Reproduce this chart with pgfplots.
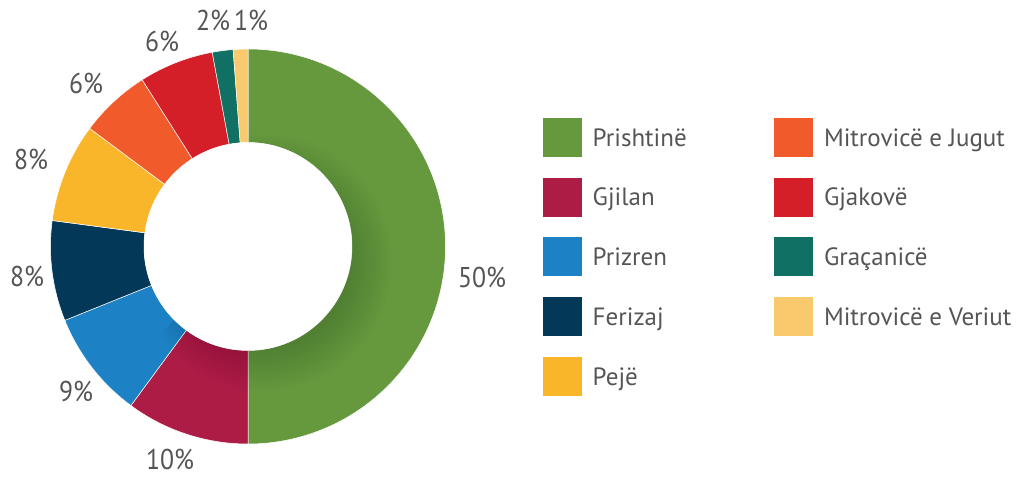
\documentclass[border=0pt]{standalone}
\usepackage{fontspec}
\setmainfont{PT Sans}
\newfontfamily\pctfam{PT Sans}[FakeStretch=0.9]
\usepackage{pgfplots}
\usepackage{pgfplotstable}
\pgfplotsset{compat=1.18}

\definecolor{cPri}{HTML}{66983E}
\definecolor{cGji}{HTML}{AC1C45}
\definecolor{cPrz}{HTML}{1D82C5}
\definecolor{cFer}{HTML}{043858}
\definecolor{cPej}{HTML}{FAB62B}
\definecolor{cMJ}{HTML}{F15A2B}
\definecolor{cGja}{HTML}{D41F28}
\definecolor{cGra}{HTML}{107064}
\definecolor{cMV}{HTML}{F8C96D}
\definecolor{txt}{HTML}{555555}

\newcommand\pctfont{\pctfam\fontsize{14.3pt}{16pt}\selectfont}
\newcommand\legfont{\fontsize{12.5pt}{15pt}\selectfont}

% share in percent, printed label, colour, label position (px, from top-left)
\pgfplotstableread[col sep=comma]{
name,value,pct,color,lx,ly
Prishtinë,50.0,50,cPri,482,277
Gjilan,10.1,10,cGji,170,459
Prizren,8.8,9,cPrz,76,391
Ferizaj,8.2,8,cFer,27,276
Pejë,8.1,8,cPej,31,159
Mitrovicë e Jugut,5.8,6,cMJ,86,83
Gjakovë,6.1,6,cGja,162,41
Graçanicë,1.7,2,cGra,213,20
Mitrovicë e Veriut,1.2,1,cMV,251,20
}\piedata

\begin{document}
\begin{tikzpicture}
% slice angles, colours and positions
\pgfplotstablegetrowsof{\piedata}
\pgfmathtruncatemacro\nlast{\pgfplotsretval-1}
\xdef\cum{90}
\foreach \i in {0,...,\nlast}{%
  \pgfplotstablegetelem{\i}{value}\of\piedata
  \pgfmathsetmacro\b{\cum-3.6*\pgfplotsretval}%
  \expandafter\xdef\csname sa\i\endcsname{\cum}%
  \expandafter\xdef\csname sb\i\endcsname{\b}%
  \xdef\cum{\b}%
  \pgfplotstablegetelem{\i}{color}\of\piedata
  \expandafter\xdef\csname col\i\endcsname{\pgfplotsretval}%
  \pgfplotstablegetelem{\i}{pct}\of\piedata
  \expandafter\xdef\csname pc\i\endcsname{\pgfplotsretval}%
  \pgfplotstablegetelem{\i}{lx}\of\piedata
  \expandafter\xdef\csname lx\i\endcsname{\pgfplotsretval}%
  \pgfplotstablegetelem{\i}{ly}\of\piedata
  \pgfmathsetmacro\t{477-\pgfplotsretval}%
  \expandafter\xdef\csname ly\i\endcsname{\t}%
  \pgfplotstablegetelem{\i}{name}\of\piedata
  \global\expandafter\let\csname nm\i\endcsname\pgfplotsretval
  \ifnum\i<5
    \pgfmathsetmacro\gx{543}\pgfmathsetmacro\gy{477-(137.3+59.75*\i)}%
  \else
    \pgfmathsetmacro\gx{774.3}\pgfmathsetmacro\gy{477-(137.3+59.75*(\i-5))}%
  \fi
  \expandafter\xdef\csname gx\i\endcsname{\gx}%
  \expandafter\xdef\csname gy\i\endcsname{\gy}%
}
\begin{axis}[
  width=509pt, height=238.5pt, scale only axis,
  xmin=0, xmax=1018, ymin=0, ymax=477,
  hide axis, clip=false,
]
% keep the whole frame as the page
\path (axis cs:0,0) rectangle (axis cs:1018,477);
% donut slices
\pgfplotsinvokeforeach{0,...,8}{
  \edef\tmp{\noexpand\fill[fill=\csname col#1\endcsname, draw=white, line width=0.25pt]
    (axis cs:248,230.5) ++(\csname sa#1\endcsname:98.75pt)
    arc[start angle=\csname sa#1\endcsname, end angle=\csname sb#1\endcsname, radius=98.75pt]
    -- ++(\csname sb#1\endcsname:-46.75pt)
    arc[start angle=\csname sb#1\endcsname, end angle=\csname sa#1\endcsname, radius=52pt] -- cycle;}
  \tmp
}
% soft shadow of the hole, cast to the lower right
\begin{scope}
  \clip (axis cs:248,230.5) ++(90:99pt) arc[start angle=90, end angle=-135, radius=99pt] -- (axis cs:248,230.5) -- cycle;
  \pgfplotsinvokeforeach{1,...,12}{
    \fill[black, opacity=0.013] (axis cs:264,214.5) circle[radius={42.2pt+1.8pt*#1}];
  }
\end{scope}
\fill[white] (axis cs:248,230.5) circle[radius=52pt];
% percentage labels and legend
\pgfplotsinvokeforeach{0,...,8}{
  \edef\tmp{\noexpand\node[font=\noexpand\pctfont, text=txt, inner sep=0pt]
    at (axis cs:\csname lx#1\endcsname,\csname ly#1\endcsname) {\csname pc#1\endcsname\noexpand\%};
    \noexpand\fill[\csname col#1\endcsname]
    (axis cs:\csname gx#1\endcsname,\csname gy#1\endcsname) ++(0pt,-9.75pt) rectangle ++(19.5pt,19.5pt);
    \noexpand\node[font=\noexpand\legfont, text=txt, inner sep=0pt, anchor=base west]
    at (axis cs:\csname gx#1\endcsname,\csname gy#1\endcsname) [xshift=24.65pt, yshift=-4.43pt] {\expandafter\noexpand\csname nm#1\endcsname};}
  \tmp
}
\end{axis}
\end{tikzpicture}
\end{document}
